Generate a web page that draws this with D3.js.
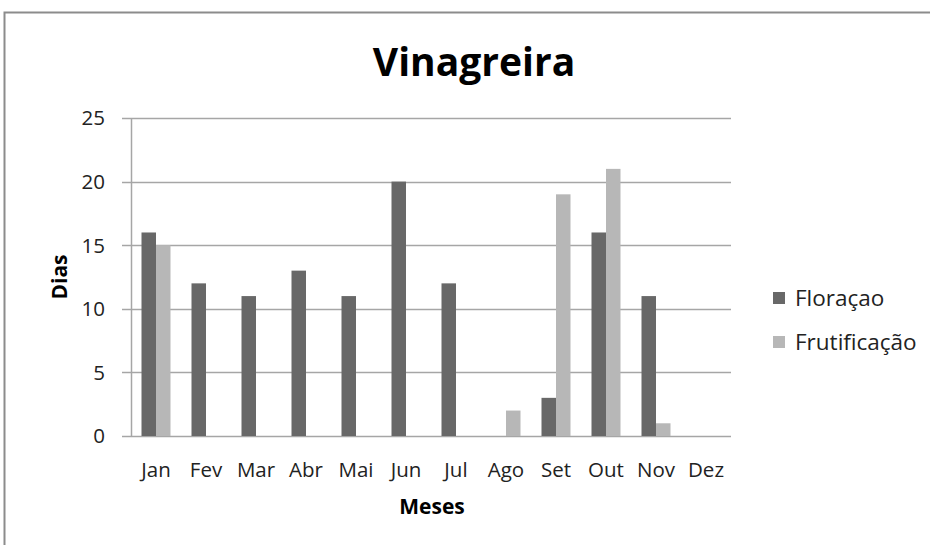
<!DOCTYPE html>
<html>
<head>
<meta charset="utf-8">
<script src="https://cdn.jsdelivr.net/npm/d3@7"></script>
<style>
  body { margin: 0; background: #fff; }
  svg { display: block; font-family: "Open Sans", "Noto Sans", sans-serif; }
</style>
</head>
<body>
<div id="chart"></div>
<script>
// data
var months = ["Jan", "Fev", "Mar", "Abr", "Mai", "Jun", "Jul", "Ago", "Set", "Out", "Nov", "Dez"];
var seriesNames = ["Floraçao", "Frutificação"];
var floracao = [16, 12, 11, 13, 11, 20, 12, 0, 3, 16, 11, 0];
var frutificacao = [15, 0, 0, 0, 0, 0, 0, 2, 19, 21, 1, 0];
var yTicks = [0, 5, 10, 15, 20, 25];

var colors = ["#686868", "#b7b7b7"];

var width = 930, height = 545;
// plot box (plotTop, not "top": that name is taken by window.top)
var plotLeft = 131, plotRight = 731, plotTop = 118, plotBottom = 436;

var svg = d3.select("#chart").append("svg")
    .attr("width", width)
    .attr("height", height);

// outer chart frame (runs off the picture on the right and bottom)
svg.append("path")
    .attr("d", "M4.5," + height + "V12.5H" + width)
    .attr("fill", "none")
    .attr("stroke", "#8c8c8c")
    .attr("stroke-width", 2);

var x = d3.scaleBand().domain(months).range([plotLeft, plotRight]);
var inner = d3.scaleBand().domain([0, 1]).range([0, 29]);
var groupOffset = (x.bandwidth() - 29) / 2;
var y = d3.scaleLinear().domain([0, 25]).range([plotBottom, plotTop]);

// gridlines
svg.append("g")
    .selectAll("line")
    .data(yTicks)
    .enter()
    .append("line")
    .attr("x1", plotLeft - 9)
    .attr("x2", plotRight)
    .attr("y1", function (d) { return Math.round(y(d)) + 0.5; })
    .attr("y2", function (d) { return Math.round(y(d)) + 0.5; })
    .attr("stroke", "#a6a6a6")
    .attr("stroke-width", 1.5);

// y axis line
svg.append("line")
    .attr("x1", plotLeft + 0.5).attr("x2", plotLeft + 0.5)
    .attr("y1", plotTop).attr("y2", plotBottom)
    .attr("stroke", "#a6a6a6")
    .attr("stroke-width", 1.5);

// bars
var series = [floracao, frutificacao];
series.forEach(function (vals, s) {
    svg.append("g")
        .selectAll("rect")
        .data(vals)
        .enter()
        .append("rect")
        .attr("x", function (d, i) { return x(months[i]) + groupOffset + inner(s); })
        .attr("y", function (d) { return y(d); })
        .attr("width", inner.bandwidth())
        .attr("height", function (d) { return plotBottom - y(d); })
        .attr("fill", colors[s]);
});

// y tick labels
svg.append("g")
    .selectAll("text")
    .data(yTicks)
    .enter()
    .append("text")
    .attr("x", 105)
    .attr("y", function (d) { return y(d); })
    .attr("dy", "0.36em")
    .attr("text-anchor", "end")
    .attr("font-size", 20.5)
    .attr("fill", "#222")
    .text(function (d) { return d; });

// x tick labels
svg.append("g")
    .selectAll("text")
    .data(months)
    .enter()
    .append("text")
    .attr("x", function (d) { return x(d) + x.bandwidth() / 2; })
    .attr("y", 477)
    .attr("text-anchor", "middle")
    .attr("font-size", 20.5)
    .attr("fill", "#222")
    .text(function (d) { return d; });

// title and axis titles
svg.append("text")
    .attr("x", 474).attr("y", 76)
    .attr("text-anchor", "middle")
    .attr("font-size", 39)
    .attr("font-weight", "bold")
    .text("Vinagreira");

svg.append("text")
    .attr("x", 432).attr("y", 514)
    .attr("text-anchor", "middle")
    .attr("font-size", 21)
    .attr("font-weight", "bold")
    .text("Meses");

svg.append("text")
    .attr("transform", "translate(67," + ((plotTop + plotBottom) / 2) + ") rotate(-90)")
    .attr("text-anchor", "middle")
    .attr("font-size", 21)
    .attr("font-weight", "bold")
    .text("Dias");

// legend
var legend = svg.append("g")
    .selectAll("g")
    .data(seriesNames)
    .enter()
    .append("g")
    .attr("transform", function (d, i) {
        return "translate(773," + (292 + i * 44) + ")";
    });

legend.append("rect")
    .attr("width", 12)
    .attr("height", 12)
    .attr("fill", function (d, i) { return colors[i]; });

legend.append("text")
    .attr("x", 22)
    .attr("y", 6)
    .attr("dy", "0.36em")
    .attr("font-size", 22.5)
    .attr("fill", "#222")
    .text(function (d) { return d; });
</script>
</body>
</html>
